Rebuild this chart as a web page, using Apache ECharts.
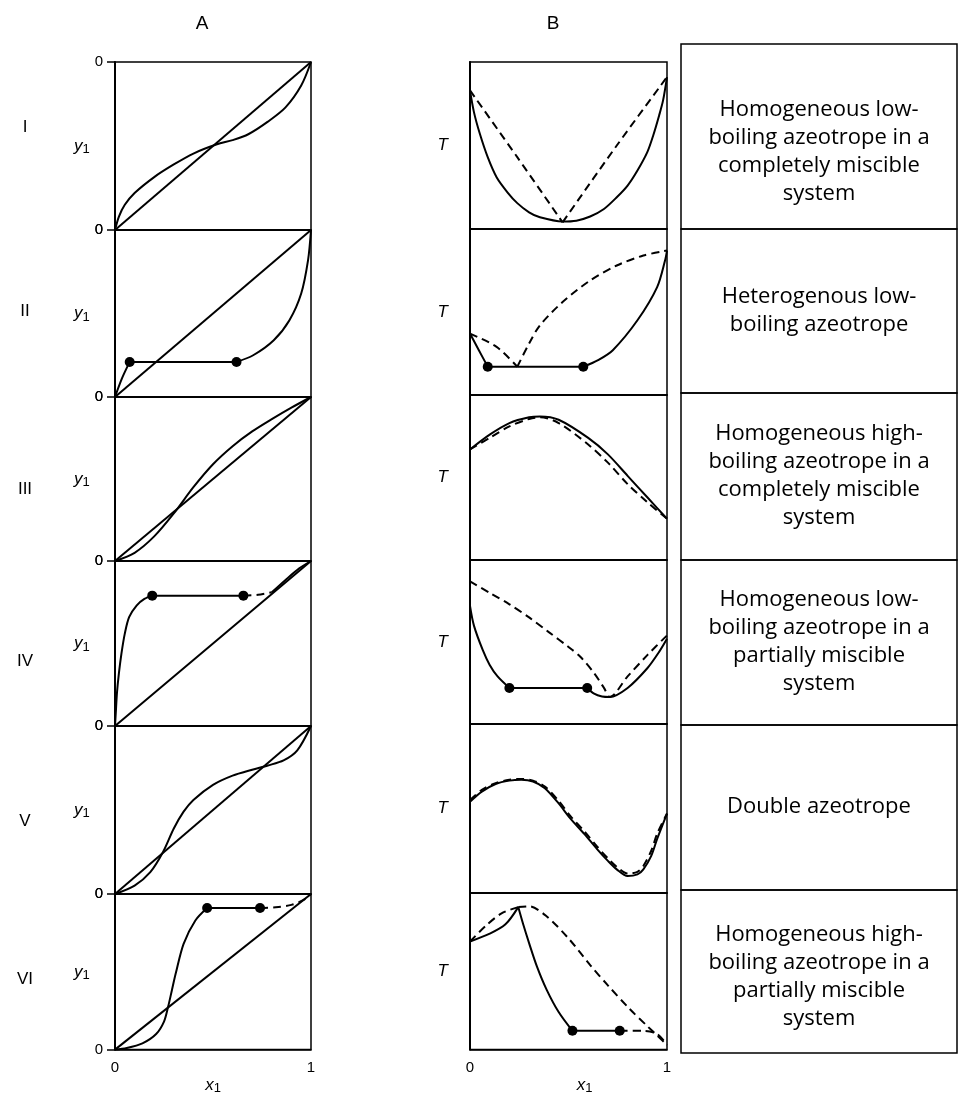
<!DOCTYPE html>
<html><head><meta charset="utf-8">
<script src="https://cdn.jsdelivr.net/npm/echarts@6/dist/echarts.min.js"></script>
<style>html,body{margin:0;padding:0;background:#fff}#c{width:959px;height:1096px}</style>
</head><body><div id="c"></div>
<script>
// ---------- text / tick labels ----------
const columnTitles = ['A', 'B'];
const romanLabels = ['I', 'II', 'III', 'IV', 'V', 'VI'];
const xTickLabels = ['0', '1'];
const yTickLabelsA = ['0', '0'];
const descriptions = [
  ['Homogeneous low-', 'boiling azeotrope in a', 'completely miscible', 'system'],
  ['Heterogenous low-', 'boiling azeotrope'],
  ['Homogeneous high-', 'boiling azeotrope in a', 'completely miscible', 'system'],
  ['Homogeneous low-', 'boiling azeotrope in a', 'partially miscible', 'system'],
  ['Double azeotrope'],
  ['Homogeneous high-', 'boiling azeotrope in a', 'partially miscible', 'system']
];

// ---------- data (normalised 0..1) ----------
const diagonal = [[0, 0], [1, 1]];
// Column A : y1 vs x1
const a1Curve = [[0,0],[0.02,0.08],[0.05,0.15],[0.1,0.22],[0.2,0.315],[0.3,0.39],[0.4,0.455],[0.52,0.51],[0.6,0.535],[0.68,0.57],[0.78,0.645],[0.87,0.73],[0.95,0.86],[1,1]];
const a2Rise = [[0,0],[0.035,0.11],[0.075,0.21]];
const a2Tie = [[0.075,0.21],[0.62,0.21]];
const a2Curve = [[0.62,0.21],[0.705,0.25],[0.81,0.34],[0.89,0.46],[0.95,0.62],[0.985,0.82],[1,1]];
const a3Curve = [[0,0],[0.1,0.05],[0.2,0.15],[0.3,0.29],[0.4,0.45],[0.5,0.59],[0.6,0.7],[0.7,0.79],[0.8,0.865],[0.9,0.935],[1,1]];
const a4Rise = [[0,0],[0.004,0.08],[0.01,0.2],[0.02,0.32],[0.033,0.44],[0.05,0.56],[0.072,0.66],[0.11,0.73],[0.15,0.77],[0.19,0.79]];
const a4Tie = [[0.19,0.79],[0.655,0.79]];
const a4Dash = [[0.655,0.79],[0.73,0.795],[0.8,0.81]];
const a4Upper = [[0.8,0.81],[0.87,0.885],[0.94,0.955],[1,1]];
const a5Curve = [[0,0],[0.1,0.05],[0.18,0.13],[0.245,0.25],[0.3,0.39],[0.35,0.49],[0.4,0.56],[0.5,0.65],[0.6,0.705],[0.7,0.74],[0.78,0.765],[0.86,0.795],[0.93,0.855],[1,1]];
const a6Rise = [[0,0],[0.06,0.01],[0.14,0.04],[0.21,0.1],[0.25,0.18],[0.27,0.27],[0.29,0.38],[0.31,0.49],[0.35,0.68],[0.41,0.83],[0.47,0.91]];
const a6Tie = [[0.47,0.91],[0.74,0.91]];
const a6Dash = [[0.74,0.91],[0.82,0.915],[0.9,0.93],[0.96,0.96],[1,1]];
// Column B : T vs x1
const b1Bubble = [[0,0.83],[0.02,0.7],[0.05,0.57],[0.09,0.43],[0.135,0.31],[0.19,0.22],[0.24,0.155],[0.3,0.1],[0.355,0.07],[0.47,0.045],[0.54,0.05],[0.61,0.075],[0.68,0.12],[0.745,0.19],[0.8,0.26],[0.85,0.35],[0.9,0.46],[0.93,0.56],[0.96,0.68],[0.98,0.77],[1,0.91]];
const b1DewLeft = [[0,0.83],[0.24,0.43],[0.47,0.04]];
const b1DewRight = [[0.47,0.04],[0.745,0.5],[1,0.91]];
const b2BubbleLeft = [[0,0.37],[0.045,0.27],[0.09,0.17]];
const b2Tie = [[0.09,0.17],[0.575,0.17]];
const b2BubbleRight = [[0.575,0.17],[0.65,0.21],[0.725,0.27],[0.85,0.45],[0.95,0.65],[0.99,0.81],[1,0.87]];
const b2DewLeft = [[0,0.37],[0.135,0.29],[0.24,0.17]];
const b2DewRight = [[0.24,0.17],[0.3,0.31],[0.355,0.42],[0.47,0.56],[0.61,0.69],[0.745,0.78],[0.88,0.84],[1,0.87]];
const b3Bubble = [[0,0.67],[0.1,0.76],[0.2,0.83],[0.3,0.865],[0.355,0.87],[0.45,0.85],[0.6,0.74],[0.7,0.64],[0.8,0.51],[0.9,0.38],[1,0.25]];
const b3Dew = [[0,0.67],[0.1,0.74],[0.2,0.81],[0.3,0.855],[0.355,0.865],[0.45,0.83],[0.6,0.7],[0.7,0.59],[0.8,0.46],[0.9,0.35],[1,0.25]];
const b4BubbleLeft = [[0,0.72],[0.02,0.6],[0.065,0.45],[0.1,0.36],[0.14,0.29],[0.2,0.22]];
const b4Tie = [[0.2,0.22],[0.595,0.22]];
const b4BubbleRight = [[0.595,0.22],[0.63,0.185],[0.67,0.168],[0.71,0.165],[0.8,0.22],[0.9,0.34],[0.96,0.44],[1,0.52]];
const b4Dew = [[0,0.87],[0.1,0.8],[0.2,0.73],[0.3,0.65],[0.4,0.56],[0.5,0.47],[0.56,0.41],[0.63,0.31],[0.68,0.22],[0.71,0.165],[0.8,0.29],[0.9,0.42],[1,0.54]];
const b5Bubble = [[0,0.54],[0.06,0.6],[0.13,0.645],[0.2,0.665],[0.26,0.67],[0.32,0.66],[0.38,0.62],[0.45,0.53],[0.51,0.44],[0.58,0.35],[0.645,0.26],[0.7,0.19],[0.745,0.14],[0.8,0.1],[0.85,0.11],[0.88,0.14],[0.92,0.22],[0.95,0.32],[1,0.47]];
const b5Dew = [[0,0.55],[0.06,0.61],[0.13,0.65],[0.2,0.67],[0.26,0.675],[0.32,0.665],[0.38,0.63],[0.45,0.545],[0.51,0.455],[0.58,0.365],[0.645,0.275],[0.7,0.205],[0.745,0.155],[0.8,0.115],[0.85,0.125],[0.88,0.16],[0.92,0.25],[0.95,0.35],[1,0.47]];
const b6BubbleLeft = [[0,0.69],[0.1,0.74],[0.18,0.8],[0.245,0.91]];
const b6DewLeft = [[0,0.69],[0.08,0.79],[0.16,0.87],[0.245,0.91]];
const b6Liquid = [[0.245,0.91],[0.27,0.8],[0.3,0.68],[0.34,0.53],[0.39,0.38],[0.45,0.24],[0.52,0.12]];
const b6Tie = [[0.52,0.12],[0.76,0.12]];
const b6Dash = [[0.76,0.12],[0.88,0.12],[0.95,0.1],[1,0.03]];
const b6Dew = [[0.245,0.91],[0.3,0.915],[0.39,0.85],[0.5,0.71],[0.61,0.54],[0.7,0.41],[0.81,0.26],[0.9,0.15],[0.95,0.09],[1,0.03]];

// ---------- panel composition ----------
const S = 'solid', D = 'dash', T = 'tie';
const panelsA = [
  [[diagonal,S],[a1Curve,S]],
  [[diagonal,S],[a2Rise,S],[a2Tie,T],[a2Curve,S]],
  [[diagonal,S],[a3Curve,S]],
  [[diagonal,S],[a4Rise,S],[a4Tie,T],[a4Dash,D],[a4Upper,S]],
  [[diagonal,S],[a5Curve,S]],
  [[diagonal,S],[a6Rise,S],[a6Tie,T],[a6Dash,D]]
];
const panelsB = [
  [[b1Bubble,S],[b1DewLeft,D],[b1DewRight,D]],
  [[b2BubbleLeft,S],[b2Tie,T],[b2BubbleRight,S],[b2DewLeft,D],[b2DewRight,D]],
  [[b3Bubble,S],[b3Dew,D]],
  [[b4BubbleLeft,S],[b4Tie,T],[b4BubbleRight,S],[b4Dew,D]],
  [[b5Bubble,S],[b5Dew,D]],
  [[b6BubbleLeft,S],[b6DewLeft,D],[b6Liquid,S],[b6Tie,T],[b6Dash,D],[b6Dew,D]]
];

// ---------- layout ----------
const rowEdgesA = [62,230,397,561,726,894,1062];
const rowEdgesB = [62,229,395,560,724,893,1060];
const colA = {left:115, width:196};
const colB = {left:470, width:197};
const romanY = [127,311,489,661,821,979];
const boxEdges = [44,229,393,560,725,890,1053];
const textCenters = [152,311,476,642,807,977];
const FONT = 'Liberation Sans, Arial, sans-serif';

const grids = [], xAxes = [], yAxes = [], series = [];
function addPanel(col, r, edges, lines, isA) {
  const g = grids.length;
  grids.push({left: col.left, top: edges[r], width: col.width, height: edges[r+1]-edges[r],
    show: true, borderColor: '#000', borderWidth: 1.5, containLabel: false});
  const bottom = r === 5;
  xAxes.push({gridIndex: g, type: 'value', min: 0, max: 1, interval: 1,
    axisLine: {show: true, onZero: false, lineStyle: {color: '#000', width: 1.5}},
    axisTick: {show: false}, splitLine: {show: false},
    axisLabel: {show: bottom, formatter: v => xTickLabels[v], color: '#000', fontSize: 15, margin: 11, fontFamily: FONT},
    name: bottom ? '{i|x}{s|1}' : '', nameLocation: 'middle', nameGap: 24,
    nameTextStyle: {padding: isA ? [0,0,0,0] : [0,0,0,32], rich: {
      i: {fontStyle: 'italic', fontSize: 17, color: '#000', fontFamily: FONT},
      s: {fontSize: 13, color: '#000', fontFamily: FONT, padding: [7,0,0,0]}}}
  });
  yAxes.push({gridIndex: g, type: 'value', min: 0, max: 1, interval: 1,
    axisLine: {show: true, onZero: false, lineStyle: {color: '#000', width: 2}},
    axisTick: {show: isA, length: 8, lineStyle: {color: '#000', width: 1.5}},
    splitLine: {show: false},
    axisLabel: {show: isA, formatter: v => yTickLabelsA[v], color: '#000', fontSize: 15, margin: 12, fontFamily: FONT},
    name: isA ? '{i|y}{s|1}' : '{i|T}', nameLocation: 'middle', nameRotate: 0, nameGap: isA ? 13 : 22,
    nameTextStyle: {rich: {
      i: {fontStyle: 'italic', fontSize: 17, color: '#000', fontFamily: FONT},
      s: {fontSize: 13, color: '#000', fontFamily: FONT, padding: [7,0,0,0]}}}
  });
  lines.forEach(([data, kind]) => {
    series.push({type: 'line', xAxisIndex: g, yAxisIndex: g, data: data,
      smooth: kind === T ? false : 0.3,
      symbol: kind === T ? 'circle' : 'none', symbolSize: 10, showSymbol: kind === T,
      lineStyle: {color: '#000', width: 2, type: kind === D ? [8,5] : 'solid'},
      itemStyle: {color: '#000'}, silent: true, animation: false, clip: false});
  });
}
for (let r = 0; r < 6; r++) addPanel(colA, r, rowEdgesA, panelsA[r], true);
for (let r = 0; r < 6; r++) addPanel(colB, r, rowEdgesB, panelsB[r], false);

const graphic = [];
graphic.push({type:'text', x:202, y:24, style:{text: columnTitles[0], fill:'#000', font:'19px '+FONT, textAlign:'center', textVerticalAlign:'middle'}});
graphic.push({type:'text', x:553, y:24, style:{text: columnTitles[1], fill:'#000', font:'19px '+FONT, textAlign:'center', textVerticalAlign:'middle'}});
romanLabels.forEach((t, i) => graphic.push({type:'text', x:25, y:romanY[i],
  style:{text: t, fill:'#000', font:'17px '+FONT, textAlign:'center', textVerticalAlign:'middle'}}));
for (let i = 0; i < 6; i++) {
  graphic.push({type:'rect', shape:{x:681, y:boxEdges[i], width:276, height:boxEdges[i+1]-boxEdges[i]},
    style:{fill:'none', stroke:'#000', lineWidth:1.5}});
  graphic.push({type:'text', x:819, y:textCenters[i], style:{text: descriptions[i].join('\n'),
    fill:'#000', font:'22px "Open Sans", sans-serif', lineHeight:28, textAlign:'center', textVerticalAlign:'middle'}});
}

const chart = echarts.init(document.getElementById('c'));
chart.setOption({animation:false, backgroundColor:'#fff', grid: grids, xAxis: xAxes, yAxis: yAxes, series: series, graphic: graphic});
</script></body></html>
